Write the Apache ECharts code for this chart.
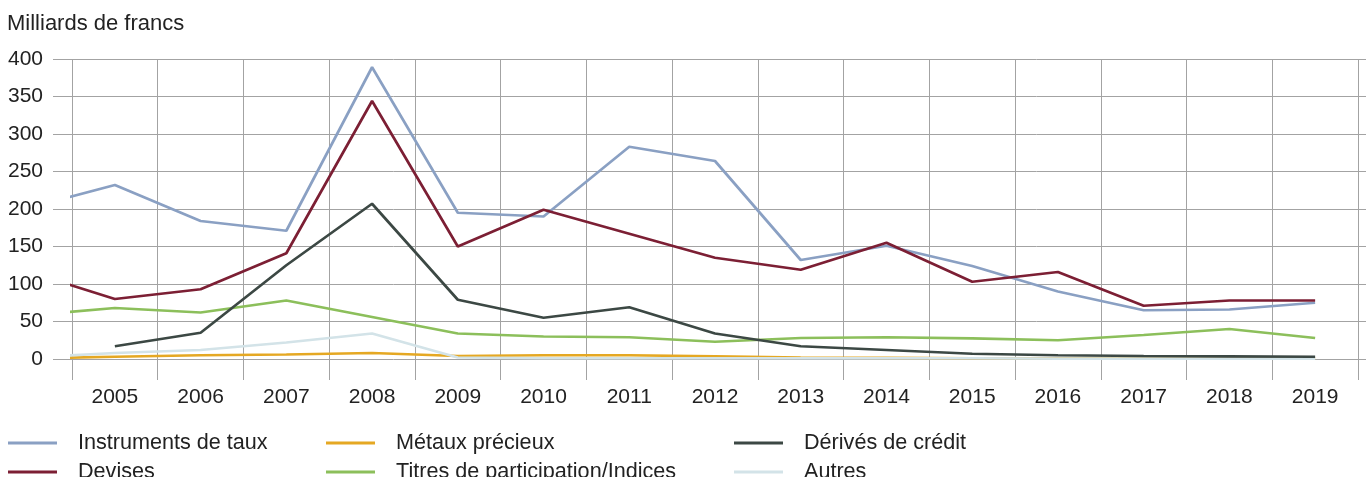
<!DOCTYPE html>
<html>
<head>
<meta charset="utf-8">
<script src="https://cdn.jsdelivr.net/npm/echarts@6/dist/echarts.min.js"></script>
<style>
  html, body { margin: 0; padding: 0; background: #fff; }
  #chart { width: 1366px; height: 477px; }
</style>
</head>
<body>
<div id="chart"></div>
<script>
// annees affichees sur l'axe
var years = ["2005", "2006", "2007", "2008", "2009", "2010", "2011", "2012",
    "2013", "2014", "2015", "2016", "2017", "2018", "2019"];
// annees des points (2004 sert seulement au segment coupe a gauche)
var dataYears = [2004, 2005, 2006, 2007, 2008, 2009, 2010, 2011, 2012,
    2013, 2014, 2015, 2016, 2017, 2018, 2019];

var instrumentsTaux = [202, 232, 184, 171, 389, 195, 190, 283, 264, 132, 151, 124, 90, 65, 66, 75];
var devises = [116, 80, 93, 141, 344, 150, 199, 167, 135, 119, 155, 103, 116, 71, 78, 78];
var metauxPrecieux = [1, 3, 5, 6, 8, 4, 5, 5, 3.5, 2, 1.5, 1, 1, 1, 1, 1];
var titresParticipation = [58, 68, 62, 78, 56, 34, 30, 29, 23, 28, 29, 27.5, 25, 32, 40, 28];
var deriveCredit = [null, 17, 35, 125, 207, 79, 55, 69, 34, 17, 12, 7, 5, 4, 3.5, 3];
var autres = [2, 8, 12, 22, 34, 2, 1, 1, 1, 1, 1, 1, 0.5, 0.5, 0.5, 0.5];

var yTicks = [0, 50, 100, 150, 200, 250, 300, 350, 400];

var gridColor = "#a3a3a3";
var textColor = "#222222";
var fontName = "Liberation Sans";

function pairs(values) {
    var out = [];
    values.forEach(function (v, i) {
        if (v !== null) out.push([dataYears[i], v]);
    });
    return out;
}

function lineSeries(name, values, color) {
    return {
        name: name,
        type: "line",
        xAxisIndex: 2,
        data: pairs(values),
        symbol: "none",
        clip: true,
        lineStyle: { color: color, width: 2.7 },
        itemStyle: { color: color }
    };
}

// une legende par entree, placee a la main (2 lignes x 3 colonnes)
function legendItem(left, top, name) {
    return {
        left: left,
        top: top,
        icon: "rect",
        itemWidth: 49,
        itemHeight: 3,
        selectedMode: false,
        data: [name],
        textStyle: {
            fontFamily: fontName,
            fontSize: 21.6,
            color: textColor,
            lineHeight: 22,
            padding: [0, 0, 0, 16]
        }
    };
}

var chart = echarts.init(document.getElementById("chart"));

var option = {
    animation: false,
    backgroundColor: "#ffffff",
    title: {
        text: "Milliards de francs",
        left: 2,
        top: 8,
        textStyle: {
            fontFamily: fontName,
            fontSize: 22,
            fontWeight: "normal",
            color: textColor
        }
    },
    legend: [
        legendItem(3, 427, "Instruments de taux"),
        legendItem(3, 456, "Devises"),
        legendItem(321, 427, "Métaux précieux"),
        legendItem(321, 456, "Titres de participation/Indices"),
        legendItem(729, 427, "Dérivés de crédit"),
        legendItem(729, 456, "Autres")
    ],
    grid: { left: 72, right: 8, top: 59, bottom: 118 },
    xAxis: [
        {
            type: "category",
            data: years,
            position: "bottom",
            boundaryGap: true,
            axisLine: { show: false },
            axisTick: { show: true, length: 21, lineStyle: { color: gridColor } },
            splitLine: { show: true, lineStyle: { color: gridColor, width: 1 } },
            axisLabel: {
                fontFamily: fontName,
                fontSize: 21,
                color: textColor,
                margin: 28
            }
        },
        {
            type: "category",
            data: years,
            position: "top",
            boundaryGap: true,
            axisLine: { show: false },
            axisTick: { show: true, length: 20, lineStyle: { color: gridColor } },
            axisLabel: { show: false },
            splitLine: { show: false }
        },
        {
            type: "value",
            min: 2004.5,
            max: 2019.5,
            show: false
        }
    ],
    yAxis: [
        {
            type: "value",
            min: 0,
            max: 400,
            interval: 50,
            position: "left",
            axisLine: { show: false },
            axisTick: { show: true, length: 19, lineStyle: { color: gridColor } },
            splitLine: { show: true, lineStyle: { color: gridColor, width: 1 } },
            axisLabel: {
                fontFamily: fontName,
                fontSize: 21,
                color: textColor,
                margin: 29,
                customValues: yTicks
            }
        },
        {
            type: "value",
            min: 0,
            max: 400,
            interval: 50,
            position: "right",
            axisLine: { show: false },
            axisTick: { show: true, length: 8, lineStyle: { color: gridColor } },
            axisLabel: { show: false },
            splitLine: { show: false }
        }
    ],
    series: [
        lineSeries("Instruments de taux", instrumentsTaux, "#8aa0c3"),
        lineSeries("Métaux précieux", metauxPrecieux, "#e5a823"),
        lineSeries("Titres de participation/Indices", titresParticipation, "#8cbf5b"),
        lineSeries("Autres", autres, "#d3e3e8"),
        lineSeries("Dérivés de crédit", deriveCredit, "#3c4844"),
        lineSeries("Devises", devises, "#7c1f34")
    ]
};

chart.setOption(option);
</script>
</body>
</html>
